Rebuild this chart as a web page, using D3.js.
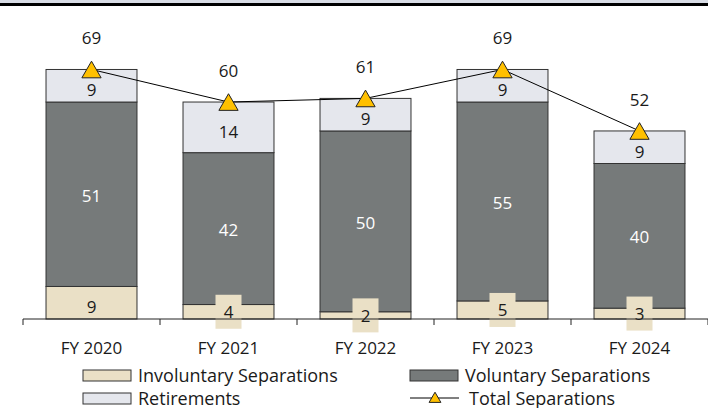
<!DOCTYPE html>
<html>
<head>
<meta charset="utf-8">
<script src="https://cdn.jsdelivr.net/npm/d3@7"></script>
<style>
  body { margin: 0; background: #fff; }
  svg { display: block; font-family: 'Open Sans', sans-serif; }
</style>
</head>
<body>
<svg id="chart" width="708" height="408"></svg>
<script>
const years = ['FY 2020', 'FY 2021', 'FY 2022', 'FY 2023', 'FY 2024'];
const involuntary = [9, 4, 2, 5, 3];
const voluntary = [51, 42, 50, 55, 40];
const retirements = [9, 14, 9, 9, 9];
const totals = [69, 60, 61, 69, 52];

const seriesKeys = ['Involuntary Separations', 'Voluntary Separations', 'Retirements'];
const colors = {
  'Involuntary Separations': '#eae0c6',
  'Voluntary Separations': '#767a7a',
  'Retirements': '#e5e7ed',
};
const labelColors = {
  'Involuntary Separations': '#1a1a1a',
  'Voluntary Separations': '#ffffff',
  'Retirements': '#1a1a1a',
};
const labelShift = {
  'Involuntary Separations': 4,
  'Voluntary Separations': 1,
  'Retirements': 4,
};
const FONT = 17;
const LEGEND_FONT = 18;

const rows = years.map((yr, i) => ({
  year: yr,
  'Involuntary Separations': involuntary[i],
  'Voluntary Separations': voluntary[i],
  'Retirements': retirements[i],
  total: totals[i],
}));

const svg = d3.select('#chart');

// top rule left over from the page header
svg.append('rect').attr('x', 0).attr('y', 0).attr('width', 708).attr('height', 3).attr('fill', '#d8dce5');
svg.append('rect').attr('x', 0).attr('y', 3).attr('width', 708).attr('height', 3).attr('fill', '#000');

const x = d3.scaleBand()
  .domain(years)
  .range([23, 708])
  .paddingInner(0.336)
  .paddingOuter(0.168);

const y = d3.scaleLinear()
  .domain([0, 80])
  .range([319, 29.7]);

const stacked = d3.stack().keys(seriesKeys)(rows);

// bars
const layers = svg.append('g').selectAll('g')
  .data(stacked)
  .enter().append('g')
    .attr('fill', d => colors[d.key]);

layers.selectAll('rect')
  .data(d => d)
  .enter().append('rect')
    .attr('x', d => x(d.data.year))
    .attr('y', d => y(d[1]))
    .attr('width', x.bandwidth())
    .attr('height', d => y(d[0]) - y(d[1]))
    .attr('stroke', '#333')
    .attr('stroke-width', 1);

// segment labels (small segments get a filled box like Excel)
stacked.forEach(layer => {
  layer.forEach(d => {
    const v = d[1] - d[0];
    const cx = x(d.data.year) + x.bandwidth() / 2;
    const h = y(d[0]) - y(d[1]);
    let cy = (y(d[0]) + y(d[1])) / 2 + labelShift[layer.key];
    if (h < 24) {
      cy = (y(d[0]) + y(d[1])) / 2;
      svg.append('rect')
        .attr('x', cx - 13)
        .attr('y', cy - 17)
        .attr('width', 26)
        .attr('height', 34)
        .attr('fill', colors[layer.key]);
    }
    svg.append('text')
      .attr('x', cx)
      .attr('y', cy)
      .attr('text-anchor', 'middle')
      .attr('dominant-baseline', 'central')
      .attr('font-size', FONT)
      .attr('fill', labelColors[layer.key])
      .text(v);
  });
});

// x axis
const gx = svg.append('g')
  .attr('transform', 'translate(0, 319)')
  .call(d3.axisBottom(x).tickSize(0));
gx.select('.domain').attr('stroke', '#222').attr('d', 'M23,0H708');
gx.selectAll('text')
  .attr('y', 28)
  .attr('dy', null)
  .attr('dominant-baseline', 'central')
  .attr('font-size', FONT)
  .attr('fill', '#1a1a1a')
  .attr('font-family', "'Open Sans', sans-serif");
const bounds = [23].concat(years.map(yr => x(yr) + x.bandwidth() + x.step() * x.paddingInner() / 2));
gx.selectAll('.bound')
  .data(bounds)
  .enter().append('line')
    .attr('x1', d => d).attr('x2', d => d)
    .attr('y1', 0).attr('y2', 6)
    .attr('stroke', '#222');

// total line + markers
const line = d3.line()
  .x(d => x(d.year) + x.bandwidth() / 2)
  .y(d => y(d.total));
svg.append('path')
  .datum(rows)
  .attr('d', line)
  .attr('fill', 'none')
  .attr('stroke', '#000')
  .attr('stroke-width', 1);

const tri = d3.symbol().type(d3.symbolTriangle).size(160);
svg.selectAll('.marker')
  .data(rows)
  .enter().append('path')
    .attr('class', 'marker')
    .attr('d', tri)
    .attr('transform', d => `translate(${x(d.year) + x.bandwidth() / 2}, ${y(d.total) + 2.8})`)
    .attr('fill', '#ffc000')
    .attr('stroke', '#222')
    .attr('stroke-width', 1);

svg.selectAll('.total-label')
  .data(rows)
  .enter().append('text')
    .attr('x', d => x(d.year) + x.bandwidth() / 2)
    .attr('y', d => y(d.total) - 31.5)
    .attr('text-anchor', 'middle')
    .attr('dominant-baseline', 'central')
    .attr('font-size', FONT)
    .attr('fill', '#1a1a1a')
    .text(d => d.total);

// legend
const legend = svg.append('g').attr('font-size', LEGEND_FONT).attr('fill', '#1a1a1a');
const legendItems = [
  { key: 'Involuntary Separations', x: 83, y: 375 },
  { key: 'Voluntary Separations', x: 410, y: 375 },
  { key: 'Retirements', x: 83, y: 398 },
];
legendItems.forEach(it => {
  legend.append('rect')
    .attr('x', it.x).attr('y', it.y - 5)
    .attr('width', 48).attr('height', 11)
    .attr('fill', colors[it.key])
    .attr('stroke', '#333');
  legend.append('text')
    .attr('x', it.x + 55).attr('y', it.y)
    .attr('dominant-baseline', 'central')
    .text(it.key);
});
legend.append('line')
  .attr('x1', 410).attr('x2', 459)
  .attr('y1', 398).attr('y2', 398)
  .attr('stroke', '#000');
legend.append('path')
  .attr('d', d3.symbol().type(d3.symbolTriangle).size(60))
  .attr('transform', 'translate(435, 399)')
  .attr('fill', '#ffc000')
  .attr('stroke', '#222');
legend.append('text')
  .attr('x', 469).attr('y', 398)
  .attr('dominant-baseline', 'central')
  .text('Total Separations');
</script>
</body>
</html>
